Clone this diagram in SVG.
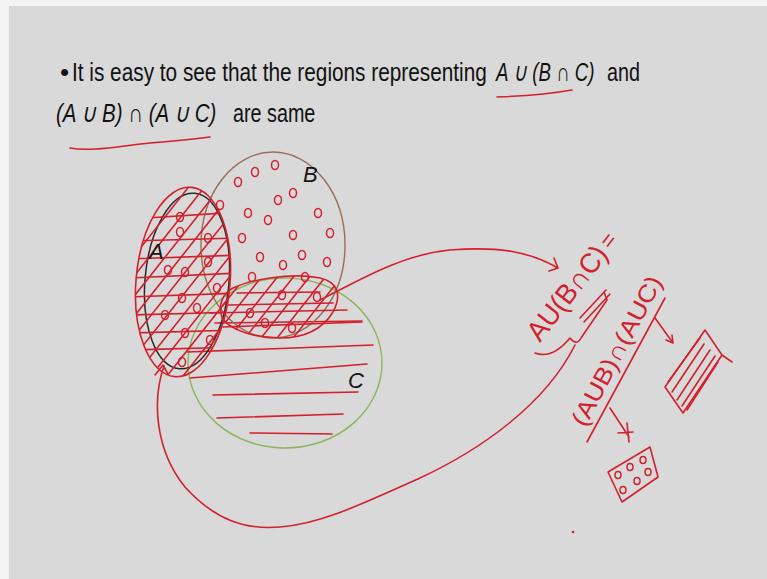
<svg xmlns="http://www.w3.org/2000/svg" width="767" height="579" viewBox="0 0 767 579">
<style>
.t{font-family:"Liberation Sans",Arial,sans-serif;font-size:26px;fill:#111}
.i{font-style:italic}
.r{fill:none;stroke:#d3202c;stroke-width:1.6;stroke-linecap:round;stroke-linejoin:round}
.o{fill:none;stroke:#d3202c;stroke-width:1.5}
.lab{font-family:"Liberation Sans",Arial,sans-serif;font-size:22px;fill:#151515;font-style:italic}
.hw{font-family:"Liberation Sans",Arial,sans-serif;fill:#d3202c}
</style>
<defs>
<clipPath id="clipA"><ellipse cx="183" cy="282" rx="47" ry="95" transform="rotate(5 183 282)"/></clipPath>
<clipPath id="clipBC"><path d="M233,288 C250,280 290,272 320,278 C338,282 342,295 333,312 C322,330 305,338 280,338 C255,338 230,330 222,318 C218,305 222,294 233,288 Z"/></clipPath>
<path id="diag" d="M-60,400l190,-240M-44,400l190,-240M-28,400l190,-240M-12,400l190,-240M4,400l190,-240M20,400l190,-240M36,400l190,-240M52,400l190,-240M68,400l190,-240M84,400l190,-240M100,400l190,-240M116,400l190,-240M132,400l190,-240M148,400l190,-240M164,400l190,-240M180,400l190,-240M196,400l190,-240M212,400l190,-240M228,400l190,-240M244,400l190,-240"/>
</defs>
<rect x="0" y="0" width="767" height="579" fill="#f3f3f3"/>
<rect x="9" y="6" width="758" height="573" fill="#d9d9d9"/>

<g id="title">
<text class="t" x="60" y="81">•</text>
<text class="t" transform="translate(72 81) scale(0.8 1)">It is easy to see that the regions representing</text>
<text class="t i" transform="translate(496 81) scale(0.72 1)">A ∪ (B ∩ C)</text>
<text class="t" transform="translate(607 81) scale(0.76 1)">and</text>
<text class="t i" transform="translate(56 122) scale(0.79 1)">(A ∪ B) ∩ (A ∪ C)</text>
<text class="t" transform="translate(233 122) scale(0.76 1)">are same</text>
<path class="r" d="M497,97 C525,96 550,94 572,90"/>
<path class="r" d="M70,148 C90,152 120,146 150,143 C175,141 195,139 210,137"/>
</g>

<g id="setC">
<ellipse cx="285" cy="363" rx="97" ry="85" fill="none" stroke="#8db35e" stroke-width="1.4"/>
<path class="r" d="M215,323 L362,321 M187,352 L373,345 M190,378 L367,364 M213,395 L358,392 M217,418 L343,414 M250,433 L332,434"/>
<text class="lab" x="348" y="388">C</text>
</g>

<g id="setB">
<ellipse cx="273" cy="245" rx="72" ry="93" fill="none" stroke="#9a6e55" stroke-width="1.4"/>
<g class="o">
<ellipse cx="238" cy="182" rx="3.5" ry="4.5"/><ellipse cx="255" cy="172" rx="3.5" ry="4.5"/><ellipse cx="275" cy="165" rx="3.5" ry="4.5"/>
<ellipse cx="293" cy="193" rx="3.5" ry="4.5"/><ellipse cx="278" cy="200" rx="3.5" ry="4.5"/><ellipse cx="248" cy="213" rx="3.5" ry="4.5"/>
<ellipse cx="268" cy="220" rx="3.5" ry="4.5"/><ellipse cx="318" cy="213" rx="3.5" ry="4.5"/><ellipse cx="220" cy="205" rx="3.5" ry="4.5"/>
<ellipse cx="242" cy="238" rx="3.5" ry="4.5"/><ellipse cx="293" cy="235" rx="3.5" ry="4.5"/><ellipse cx="330" cy="233" rx="3.5" ry="4.5"/>
<ellipse cx="260" cy="257" rx="3.5" ry="4.5"/><ellipse cx="283" cy="265" rx="3.5" ry="4.5"/><ellipse cx="302" cy="255" rx="3.5" ry="4.5"/>
<ellipse cx="327" cy="262" rx="3.5" ry="4.5"/><ellipse cx="252" cy="277" rx="3.5" ry="4.5"/><ellipse cx="305" cy="277" rx="3.5" ry="4.5"/>
<ellipse cx="208" cy="238" rx="3.5" ry="4.5"/>
</g>
<text class="lab" x="303" y="182">B</text>
</g>

<g id="setA">
<ellipse cx="187" cy="281" rx="42" ry="88" transform="rotate(5 187 281)" fill="none" stroke="#2a2a2a" stroke-width="1.5"/>
<ellipse cx="183" cy="282" rx="47" ry="95" transform="rotate(5 183 282)" class="r"/>
<g clip-path="url(#clipA)">
<use href="#diag" class="r"/>
<path class="r" d="M130,219 L240,212 M130,241 L240,238 M130,259 L240,255 M130,278 L240,273 M130,297 L240,293 M130,315 L240,312 M130,333 L240,330 M130,350 L240,347"/>
</g>
<g class="o">
<ellipse cx="180" cy="217" rx="3.5" ry="4.5"/><ellipse cx="180" cy="232" rx="3.5" ry="4.5"/><ellipse cx="168" cy="270" rx="3.5" ry="4.5"/>
<ellipse cx="185" cy="272" rx="3.5" ry="4.5"/><ellipse cx="182" cy="298" rx="3.5" ry="4.5"/><ellipse cx="197" cy="308" rx="3.5" ry="4.5"/>
<ellipse cx="165" cy="315" rx="3.5" ry="4.5"/><ellipse cx="185" cy="333" rx="3.5" ry="4.5"/><ellipse cx="210" cy="340" rx="3.5" ry="4.5"/>
<ellipse cx="182" cy="362" rx="3.5" ry="4.5"/><ellipse cx="217" cy="288" rx="3.5" ry="4.5"/><ellipse cx="208" cy="262" rx="3.5" ry="4.5"/>
</g>
<text class="lab" x="149" y="259">A</text>
</g>

<g id="BcapC">
<path class="r" d="M233,288 C250,280 290,272 320,278 C338,282 342,295 333,312 C322,330 305,338 280,338 C255,338 230,330 222,318 C218,305 222,294 233,288 Z"/>
<g clip-path="url(#clipBC)"><use href="#diag" class="r"/></g>
<path class="r" d="M237,293 L320,292 M228,305 L333,303 M210,313 L347,310 M223,327 L362,322"/>
<g class="o">
<ellipse cx="282" cy="295" rx="3.5" ry="4.5"/><ellipse cx="317" cy="297" rx="3.5" ry="4.5"/><ellipse cx="250" cy="313" rx="3.5" ry="4.5"/>
<ellipse cx="265" cy="323" rx="3.5" ry="4.5"/><ellipse cx="292" cy="328" rx="3.5" ry="4.5"/>
</g>
</g>

<g id="expr1">
<text class="hw" font-size="28" transform="translate(540 343) rotate(-52)" textLength="112" lengthAdjust="spacingAndGlyphs">AU(B∩C)</text>
<text class="hw" font-size="22" transform="translate(610 250) rotate(-52)">=</text>
<path class="r" d="M535,353 C548,358 560,350 570,338 C574,343 578,344 581,338 L607,300 L604,292 M580,318 L606,290 M584,322 L610,294"/>
</g>

<g id="expr2">
<text class="hw" font-size="24" transform="translate(585 428) rotate(-62)" textLength="166" lengthAdjust="spacingAndGlyphs">(AUB)∩(AUC)</text>
<path class="r" d="M587,442 L665,298"/>
</g>

<g id="stripes">
<path class="r" d="M665,387 L705,330 L722,355 L732,362 M722,355 L683,413 L665,387"/>
<path class="r" d="M672,392 L704,344 M677,400 L710,350 M682,406 L715,356 M668,382 L700,338 M687,410 L718,362"/>
</g>

<g id="dots">
<path class="r" d="M608,472 L650,447 L658,477 L622,502 Z"/>
<g class="o">
<ellipse cx="618" cy="475" rx="3" ry="3.5"/><ellipse cx="630" cy="467" rx="3" ry="3.5"/><ellipse cx="643" cy="460" rx="3" ry="3.5"/>
<ellipse cx="623" cy="490" rx="3" ry="3.5"/><ellipse cx="637" cy="481" rx="3" ry="3.5"/><ellipse cx="648" cy="472" rx="3" ry="3.5"/>
</g>
</g>

<g id="connectors">
<path class="r" d="M164,366 C152,400 155,450 185,487 C215,520 245,530 280,527 C320,524 360,505 420,478 C480,450 545,405 575,345"/>
<path class="r" d="M155,375 L163,365 L168,374"/>
<path class="r" d="M320,300 C360,280 400,255 450,250 C500,246 530,252 558,268 M549,271 L558,268 L554,258"/>
<path class="r" d="M610,408 L629,437 M618,433 L633,432 M627,423 L629,442"/>
<path class="r" d="M655,318 L673,343 M666,340 L673,343 L672,335"/>
<circle cx="573" cy="532" r="1.3" fill="#d3202c"/>
</g>
</svg>
